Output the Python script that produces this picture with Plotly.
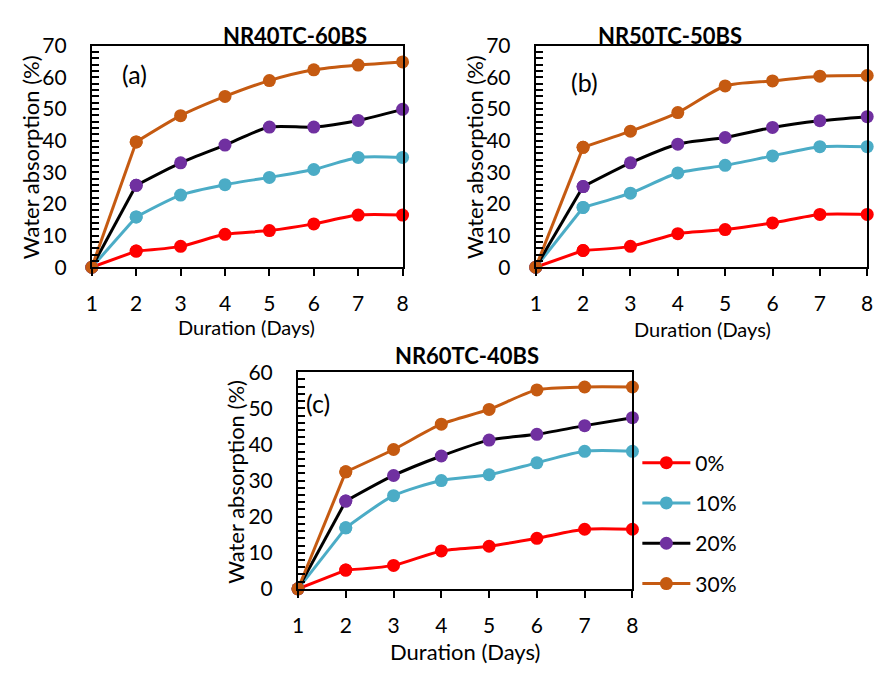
import plotly.graph_objects as go

days = [1, 2, 3, 4, 5, 6, 7, 8]
series_names = ["0%", "10%", "20%", "30%"]
line_colors = ["#FF0000", "#4BACC6", "#000000", "#C55A11"]
marker_colors = ["#FF0000", "#4BACC6", "#7030A0", "#C55A11"]

# Panel (a) NR40TC-60BS
a_0 = [0, 5.1, 6.6, 10.4, 11.6, 13.7, 16.5, 16.5]
a_10 = [0, 15.9, 22.8, 26.1, 28.4, 30.9, 34.7, 34.7]
a_20 = [0, 25.9, 33.0, 38.6, 44.3, 44.3, 46.4, 49.9]
a_30 = [0, 39.6, 47.9, 54.0, 59.0, 62.4, 63.9, 64.9]

# Panel (b) NR50TC-50BS
b_0 = [0, 5.3, 6.6, 10.6, 11.9, 14.0, 16.7, 16.7]
b_10 = [0, 18.9, 23.4, 29.8, 32.2, 35.2, 38.1, 38.1]
b_20 = [0, 25.5, 33.0, 38.9, 41.0, 44.2, 46.3, 47.6]
b_30 = [0, 37.9, 43.0, 48.9, 57.3, 58.9, 60.4, 60.6]

# Panel (c) NR60TC-40BS
c_0 = [0, 5.2, 6.5, 10.5, 11.8, 14.0, 16.5, 16.5]
c_10 = [0, 16.9, 25.8, 30.0, 31.6, 34.9, 38.1, 38.1]
c_20 = [0, 24.3, 31.4, 36.8, 41.2, 42.8, 45.2, 47.4]
c_30 = [0, 32.4, 38.6, 45.6, 49.7, 55.1, 55.9, 55.9]

panels = [
    ("x", "y", [a_0, a_10, a_20, a_30], False),
    ("x2", "y2", [b_0, b_10, b_20, b_30], False),
    ("x3", "y3", [c_0, c_10, c_20, c_30], True),
]

FONT = "Lato, Calibri, sans-serif"
W, H = 888, 674

fig = go.Figure()
for xa, ya, series, show in panels:
    for i, vals in enumerate(series):
        # first segment drawn straight (as in the reference), the rest smoothed
        fig.add_trace(go.Scatter(
            x=days[:2], y=vals[:2], xaxis=xa, yaxis=ya,
            mode="lines+markers", name=series_names[i],
            legendgroup=series_names[i], showlegend=False, cliponaxis=False,
            line=dict(color=line_colors[i], width=3),
            marker=dict(color=marker_colors[i], size=13, line=dict(width=0)),
        ))
        fig.add_trace(go.Scatter(
            x=days[1:], y=vals[1:], xaxis=xa, yaxis=ya,
            mode="lines+markers",
            name=series_names[i],
            legendgroup=series_names[i],
            showlegend=show,
            cliponaxis=False,
            line=dict(color=line_colors[i], width=3, shape="spline", smoothing=0.7),
            marker=dict(color=marker_colors[i], size=13,
                        line=dict(width=0)),
        ))

def px_x(p):
    return p / W

def px_y(p):
    return 1 - p / H

common_x = dict(range=[1, 8], dtick=1, tick0=1, showline=True, linecolor="#000000",
                linewidth=2, mirror=True, ticks="outside", ticklen=7, tickwidth=2,
                tickcolor="#000000", showgrid=False, zeroline=False,
                tickfont=dict(family=FONT, size=21, color="#000000"),
                ticklabelstandoff=10)
common_y = dict(showline=True, linecolor="#000000", linewidth=2, mirror=True,
                ticks="inside", ticklen=7, tickwidth=1.5, tickcolor="#000000",
                dtick=10, showgrid=False, zeroline=False,
                minor=dict(dtick=2, ticks="inside", ticklen=7, tickwidth=1.5,
                           tickcolor="#000000", showgrid=False),
                tickfont=dict(family=FONT, size=21, color="#000000"),
                ticklabelstandoff=19)

fig.update_layout(
    width=W, height=H,
    margin=dict(l=0, r=0, t=0, b=0),
    paper_bgcolor="white", plot_bgcolor="white",
    font=dict(family=FONT, color="#000000"),
    xaxis=dict(domain=[px_x(87), px_x(402)], anchor="y", **common_x),
    yaxis=dict(domain=[px_y(263), px_y(33)], anchor="x", range=[0, 70], **common_y),
    xaxis2=dict(domain=[px_x(537), px_x(873)], anchor="y2", **common_x),
    yaxis2=dict(domain=[px_y(263), px_y(33)], anchor="x2", range=[0, 70], **common_y),
    xaxis3=dict(domain=[px_x(296), px_x(635)], anchor="y3", **common_x),
    yaxis3=dict(domain=[px_y(597), px_y(372)], anchor="x3", range=[0, 60], **common_y),
    legend=dict(x=px_x(640), y=px_y(445), xanchor="left", yanchor="top",
                font=dict(family=FONT, size=21, color="#000000"),
                itemwidth=48, tracegroupgap=10, bgcolor="rgba(0,0,0,0)"),
)

ann = []
titles = [("NR40TC-60BS", 293, 22), ("NR50TC-50BS", 673, 22), ("NR60TC-40BS", 467, 355)]
for t, cx, cy in titles:
    ann.append(dict(text="<b>" + t + "</b>", x=px_x(cx), y=px_y(cy), xref="paper", yref="paper",
                    showarrow=False, xanchor="center", yanchor="middle",
                    font=dict(family=FONT, size=22, color="#000000")))
ytitles = [(25, 149), (475, 149), (233, 486)]
for cx, cy in ytitles:
    ann.append(dict(text="Water absorption (%)", x=px_x(cx), y=px_y(cy), xref="paper", yref="paper",
                    showarrow=False, xanchor="center", yanchor="middle", textangle=-90,
                    font=dict(family=FONT, size=22, color="#000000")))
xtitles = [(244, 325, 20), (706, 327, 20), (465, 662, 22)]
for cx, cy, fs in xtitles:
    ann.append(dict(text="Duration (Days)", x=px_x(cx), y=px_y(cy), xref="paper", yref="paper",
                    showarrow=False, xanchor="center", yanchor="middle",
                    font=dict(family=FONT, size=fs, color="#000000")))
labels = [("(a)", "x", "y", 1.96, 61.2), ("(b)", "x2", "y2", 2.02, 58.7), ("(c)", "x3", "y3", 1.41, 51.5)]
for t, xr, yr, xv, yv in labels:
    ann.append(dict(text=t, x=xv, y=yv, xref=xr, yref=yr, showarrow=False,
                    xanchor="center", yanchor="middle",
                    font=dict(family=FONT, size=25, color="#000000")))
fig.update_layout(annotations=ann)

fig.write_html("out.html")
